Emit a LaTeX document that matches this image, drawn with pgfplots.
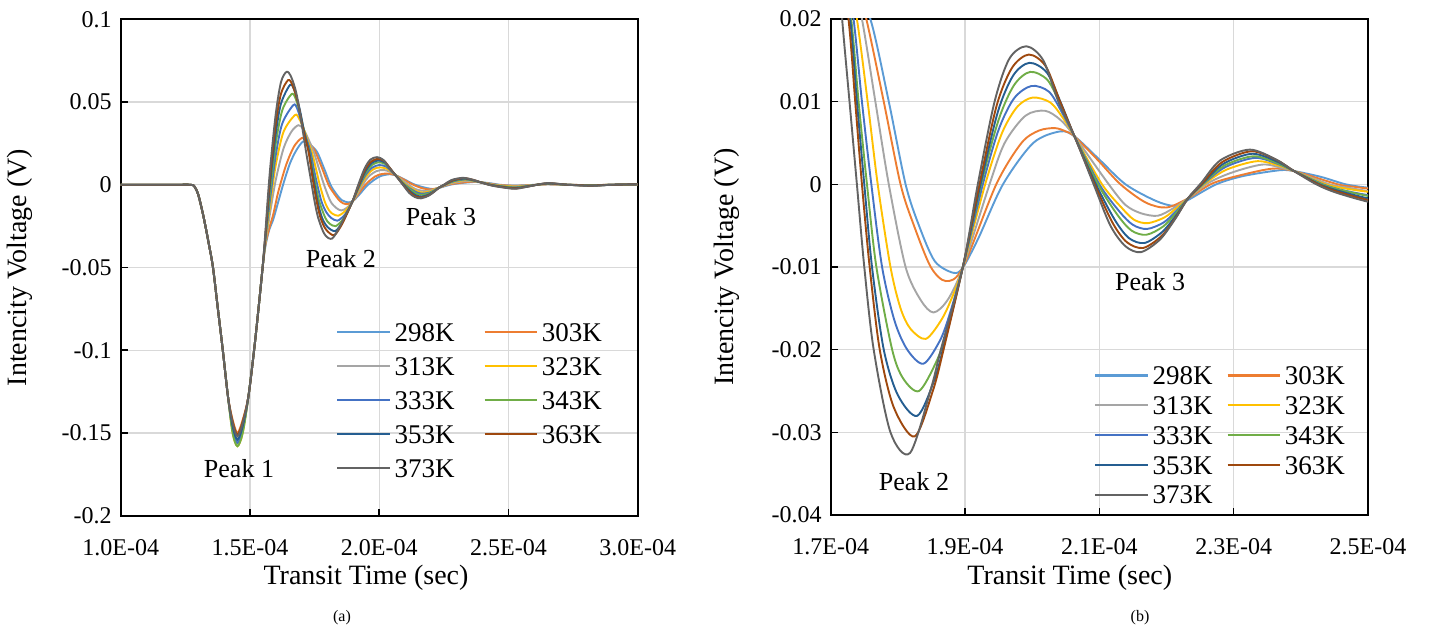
\documentclass[border=0pt]{standalone}
\usepackage{fontspec}
\setmainfont{Liberation Serif}
\usepackage{pgfplots}
\usepackage{pgfplotstable}
\pgfplotsset{compat=1.18}

% transit time in units of 1E-04 s, voltage in V
\pgfplotstableread{
t v
1.00 0
1.20 0
1.27 0
1.285 -0.001
1.30 -0.006
1.32 -0.019
1.34 -0.035
1.357 -0.050
1.376 -0.075
1.395 -0.100
1.415 -0.128
1.433 -0.148
1.4515 -0.156
1.472 -0.148
1.494 -0.128
1.516 -0.100
1.533 -0.075
1.549 -0.050
1.560 -0.037
1.575 -0.027
1.590 -0.021
1.610 -0.010
1.630 0.001
1.655 0.013
1.680 0.021
1.706 0.0262
1.730 0.0245
1.759 0.020
1.7865 0.010
1.8115 0.000
1.8315 -0.005
1.855 -0.0093
1.8825 -0.0107
1.8965 -0.0101
1.920 -0.0065
1.9565 0.000
2.0015 0.005
2.0415 0.0064
2.063 0.0058
2.100 0.003
2.139 0.000
2.184 -0.0020
2.212 -0.0026
2.232 -0.0019
2.274 0.000
2.314 0.0010
2.368 0.0017
2.390 0.0016
2.430 0.0009
2.467 0.000
2.500 -0.0004
2.530 -0.0005
2.580 -0.0002
2.650 0.0003
2.730 0.000
2.820 -0.0002
2.900 0.000
3.000 0.0002
}\dA

\pgfplotstableread{
t v
1.00 0
1.20 0
1.27 0
1.285 -0.001
1.30 -0.006
1.32 -0.019
1.34 -0.035
1.357 -0.050
1.376 -0.075
1.395 -0.100
1.415 -0.128
1.433 -0.142
1.4515 -0.150
1.472 -0.142
1.494 -0.128
1.516 -0.100
1.533 -0.075
1.549 -0.050
1.560 -0.036
1.575 -0.026
1.590 -0.018
1.610 -0.004
1.640 0.012
1.670 0.023
1.700 0.0282
1.720 0.027
1.740 0.023
1.753 0.020
1.779 0.010
1.804 0.000
1.824 -0.005
1.849 -0.010
1.8715 -0.0117
1.8965 -0.0101
1.9465 0.000
1.984 0.005
2.010 0.0065
2.034 0.0068
2.050 0.0064
2.063 0.0058
2.097 0.0030
2.1315 0.000
2.169 -0.0022
2.200 -0.0028
2.232 -0.0017
2.268 0.0001
2.310 0.0011
2.358 0.0019
2.390 0.0016
2.455 0.000
2.480 -0.0003
2.500 -0.0005
2.530 -0.0006
2.580 -0.0003
2.650 0.0003
2.730 0.000
2.820 -0.0002
2.900 0.000
3.000 0.0002
}\dB

\pgfplotstableread{
t v
1.00 0
1.20 0
1.27 0
1.285 -0.001
1.30 -0.006
1.32 -0.019
1.34 -0.035
1.357 -0.050
1.376 -0.075
1.395 -0.100
1.415 -0.128
1.433 -0.147
1.4515 -0.155
1.472 -0.147
1.494 -0.128
1.516 -0.100
1.533 -0.075
1.549 -0.050
1.560 -0.035
1.570 -0.025
1.580 -0.015
1.600 0.003
1.630 0.022
1.660 0.032
1.687 0.036
1.705 0.034
1.725 0.028
1.7465 0.020
1.7665 0.010
1.7865 0.000
1.8115 -0.010
1.834 -0.014
1.853 -0.0155
1.874 -0.0140
1.8965 -0.0101
1.9365 0.000
1.959 0.005
1.990 0.0083
2.019 0.0089
2.042 0.0078
2.063 0.0058
2.114 0.000
2.139 -0.0025
2.162 -0.0035
2.187 -0.0038
2.210 -0.0029
2.232 -0.0017
2.263 0.0002
2.300 0.0015
2.344 0.0024
2.375 0.0019
2.390 0.0016
2.443 0.000
2.470 -0.0004
2.500 -0.0008
2.530 -0.0009
2.580 -0.0004
2.650 0.0004
2.730 0.000
2.820 -0.0003
2.900 0.000
3.000 0.0002
}\dC

\pgfplotstableread{
t v
1.00 0
1.20 0
1.27 0
1.285 -0.001
1.30 -0.006
1.32 -0.019
1.34 -0.035
1.357 -0.050
1.376 -0.075
1.395 -0.100
1.415 -0.128
1.433 -0.150
1.4515 -0.158
1.472 -0.150
1.494 -0.128
1.516 -0.100
1.533 -0.075
1.549 -0.050
1.560 -0.034
1.570 -0.022
1.580 -0.010
1.600 0.012
1.630 0.032
1.674 0.0421
1.690 0.040
1.710 0.033
1.7225 0.027
1.739 0.020
1.755 0.010
1.770 0.000
1.789 -0.010
1.804 -0.015
1.819 -0.0175
1.8415 -0.0187
1.864 -0.0165
1.879 -0.014
1.8965 -0.0101
1.930 0.000
1.955 0.0062
1.978 0.0094
2.001 0.0105
2.027 0.0099
2.046 0.0080
2.063 0.0058
2.104 0.000
2.134 -0.0029
2.152 -0.0043
2.172 -0.0047
2.197 -0.0040
2.216 -0.0028
2.232 -0.0017
2.259 0.0002
2.290 0.0018
2.335 0.0028
2.370 0.0022
2.390 0.0016
2.437 0.000
2.466 -0.0005
2.500 -0.0009
2.530 -0.0011
2.580 -0.0005
2.650 0.0005
2.730 0.000
2.820 -0.0003
2.900 0.000
3.000 0.0002
}\dD

\pgfplotstableread{
t v
1.00 0
1.20 0
1.27 0
1.285 -0.001
1.30 -0.006
1.32 -0.019
1.34 -0.035
1.357 -0.050
1.376 -0.075
1.395 -0.100
1.415 -0.128
1.433 -0.148
1.4515 -0.156
1.472 -0.148
1.494 -0.128
1.516 -0.100
1.533 -0.075
1.549 -0.050
1.560 -0.033
1.570 -0.019
1.580 -0.006
1.600 0.018
1.625 0.037
1.668 0.0482
1.683 0.046
1.701 0.037
1.718 0.028
1.734 0.020
1.7465 0.010
1.7605 0.000
1.7765 -0.010
1.795 -0.0165
1.814 -0.020
1.838 -0.0217
1.862 -0.019
1.876 -0.016
1.8965 -0.0101
1.9265 0.000
1.950 0.0066
1.973 0.0104
1.999 0.0119
2.025 0.0112
2.045 0.0086
2.063 0.0058
2.100 0.000
2.130 -0.0033
2.150 -0.0049
2.171 -0.0054
2.196 -0.0046
2.216 -0.0031
2.232 -0.0017
2.257 0.0002
2.288 0.0021
2.332 0.0032
2.368 0.0024
2.390 0.0016
2.433 0.000
2.462 -0.0007
2.500 -0.0013
2.530 -0.0015
2.580 -0.0006
2.650 0.0006
2.730 0.000
2.820 -0.0004
2.900 0.000
3.000 0.0003
}\dE

\pgfplotstableread{
t v
1.00 0
1.20 0
1.27 0
1.285 -0.001
1.30 -0.006
1.32 -0.019
1.34 -0.035
1.357 -0.050
1.376 -0.075
1.395 -0.100
1.415 -0.128
1.433 -0.150
1.4515 -0.158
1.472 -0.150
1.494 -0.128
1.516 -0.100
1.533 -0.075
1.549 -0.050
1.560 -0.032
1.570 -0.016
1.580 -0.001
1.600 0.025
1.625 0.045
1.661 0.0548
1.677 0.052
1.696 0.042
1.714 0.029
1.7305 0.020
1.7415 0.010
1.754 0.000
1.768 -0.010
1.7915 -0.020
1.808 -0.0235
1.8315 -0.025
1.857 -0.0215
1.872 -0.018
1.8965 -0.0101
1.924 0.000
1.950 0.0078
1.973 0.0120
1.997 0.0136
2.023 0.0126
2.044 0.0093
2.063 0.0058
2.098 0.000
2.127 -0.0037
2.148 -0.0056
2.170 -0.0061
2.195 -0.0051
2.215 -0.0034
2.232 -0.0017
2.256 0.0002
2.287 0.0023
2.330 0.0034
2.367 0.0025
2.390 0.0016
2.431 0.000
2.460 -0.0007
2.500 -0.0014
2.530 -0.0017
2.580 -0.0007
2.650 0.0007
2.730 0.000
2.820 -0.0004
2.900 0.000
3.000 0.0003
}\dF

\pgfplotstableread{
t v
1.00 0
1.20 0
1.27 0
1.285 -0.001
1.30 -0.006
1.32 -0.019
1.34 -0.035
1.357 -0.050
1.376 -0.075
1.395 -0.100
1.415 -0.128
1.433 -0.146
1.4515 -0.154
1.472 -0.146
1.494 -0.128
1.516 -0.100
1.533 -0.075
1.549 -0.050
1.560 -0.031
1.570 -0.013
1.580 0.004
1.600 0.031
1.620 0.049
1.655 0.0603
1.672 0.057
1.692 0.046
1.711 0.031
1.729 0.020
1.739 0.010
1.750 0.000
1.7615 -0.010
1.779 -0.020
1.800 -0.0255
1.829 -0.028
1.855 -0.0235
1.870 -0.019
1.8965 -0.0101
1.923 0.000
1.949 0.0088
1.972 0.0132
1.996 0.0147
2.022 0.0135
2.043 0.0098
2.063 0.0058
2.095 0.000
2.123 -0.0043
2.144 -0.0065
2.167 -0.0071
2.193 -0.0058
2.214 -0.0038
2.232 -0.0017
2.255 0.0002
2.285 0.0025
2.328 0.0037
2.366 0.0027
2.390 0.0016
2.428 0.000
2.457 -0.0008
2.500 -0.0017
2.530 -0.0020
2.580 -0.0008
2.650 0.0008
2.730 0.000
2.820 -0.0005
2.900 0.000
3.000 0.0003
}\dG

\pgfplotstableread{
t v
1.00 0
1.20 0
1.27 0
1.285 -0.001
1.30 -0.006
1.32 -0.019
1.34 -0.035
1.357 -0.050
1.376 -0.075
1.395 -0.100
1.415 -0.128
1.433 -0.143
1.4515 -0.151
1.472 -0.143
1.494 -0.128
1.516 -0.100
1.533 -0.075
1.549 -0.050
1.560 -0.030
1.570 -0.010
1.580 0.008
1.600 0.037
1.620 0.055
1.648 0.0633
1.665 0.060
1.685 0.050
1.705 0.034
1.7265 0.020
1.7365 0.010
1.7465 0.000
1.758 -0.010
1.773 -0.020
1.794 -0.027
1.825 -0.0305
1.852 -0.025
1.868 -0.020
1.8965 -0.0101
1.9215 0.000
1.947 0.0095
1.970 0.0141
1.995 0.0157
2.020 0.0143
2.041 0.0101
2.063 0.0058
2.093 0.000
2.120 -0.0047
2.141 -0.0070
2.165 -0.0077
2.192 -0.0063
2.213 -0.0041
2.232 -0.0017
2.254 0.0002
2.283 0.0027
2.327 0.0040
2.365 0.0029
2.390 0.0016
2.426 0.000
2.455 -0.0009
2.500 -0.0019
2.530 -0.0022
2.580 -0.0009
2.650 0.0009
2.730 0.000
2.820 -0.0005
2.900 0.000
3.000 0.0003
}\dH

\pgfplotstableread{
t v
1.00 0
1.20 0
1.27 0
1.285 -0.001
1.30 -0.006
1.32 -0.019
1.34 -0.035
1.357 -0.050
1.376 -0.075
1.395 -0.100
1.415 -0.128
1.433 -0.144
1.4515 -0.152
1.472 -0.144
1.494 -0.128
1.516 -0.100
1.533 -0.075
1.549 -0.050
1.560 -0.028
1.570 -0.006
1.580 0.013
1.600 0.043
1.620 0.062
1.642 0.0683
1.660 0.065
1.680 0.055
1.700 0.037
1.717 0.020
1.728 0.010
1.739 0.000
1.750 -0.010
1.764 -0.020
1.789 -0.030
1.818 -0.0325
1.849 -0.0248
1.864 -0.020
1.8965 -0.0101
1.919 0.000
1.944 0.010
1.966 0.0152
1.9915 0.0167
2.0165 0.015
2.039 0.010
2.063 0.0058
2.0915 0.000
2.1165 -0.005
2.139 -0.0075
2.162 -0.0082
2.190 -0.0067
2.212 -0.0043
2.232 -0.0017
2.252 0.0002
2.280 0.0029
2.324 0.0042
2.363 0.003
2.390 0.0016
2.423 0.000
2.4525 -0.001
2.500 -0.0021
2.530 -0.0024
2.580 -0.001
2.650 0.001
2.730 0.000
2.820 -0.0006
2.900 0.000
3.000 0.0003
}\dI

\definecolor{c298}{HTML}{5B9BD5}
\definecolor{c303}{HTML}{ED7D31}
\definecolor{c313}{HTML}{A5A5A5}
\definecolor{c323}{HTML}{FFC000}
\definecolor{c333}{HTML}{4472C4}
\definecolor{c343}{HTML}{70AD47}
\definecolor{c353}{HTML}{255E91}
\definecolor{c363}{HTML}{9E480E}
\definecolor{c373}{HTML}{636363}

\pgfplotsset{
  panel/.style={
    scale only axis,
    scaled ticks=false,
    axis line style={black, line width=1.1pt},
    grid=major, major grid style={draw=black!15, line width=0.6pt},
    tick align=inside, major tick length=3.5pt,
    every tick/.style={black, line width=0.8pt},
    xtick pos=left, ytick pos=left,
    tick label style={font=\fontsize{12}{14}\selectfont},
    xticklabel style={anchor=center, yshift=-16pt},
    yticklabel style={xshift=-1pt},
    label style={font=\fontsize{14}{16}\selectfont},
    xlabel={Transit Time (sec)},
    ylabel={Intencity Voltage (V)},
    legend columns=2,
    legend cell align=left,
    legend image code/.code={%
      \draw[##1, line width=1.1pt] plot coordinates {(0pt,0pt) (26pt,0pt)};},
  },
  crv/.style={line width=0.95pt, smooth},
}

\newcommand{\allseries}{%
  \addplot[crv, c298] table[x=t, y=v] {\dA}; \addlegendentry{298K}
  \addplot[crv, c303] table[x=t, y=v] {\dB}; \addlegendentry{303K}
  \addplot[crv, c313] table[x=t, y=v] {\dC}; \addlegendentry{313K}
  \addplot[crv, c323] table[x=t, y=v] {\dD}; \addlegendentry{323K}
  \addplot[crv, c333] table[x=t, y=v] {\dE}; \addlegendentry{333K}
  \addplot[crv, c343] table[x=t, y=v] {\dF}; \addlegendentry{343K}
  \addplot[crv, c353] table[x=t, y=v] {\dG}; \addlegendentry{353K}
  \addplot[crv, c363] table[x=t, y=v] {\dH}; \addlegendentry{363K}
  \addplot[crv, c373] table[x=t, y=v] {\dI}; \addlegendentry{373K}
}

\begin{document}
\begin{tikzpicture}
\path (0,0) rectangle (714.5pt,-316.5pt);

\begin{axis}[panel,
  at={(60.35pt,-257.85pt)}, anchor=south west,
  width=258.5pt, height=248.2pt,
  xmin=1, xmax=3, ymin=-0.2, ymax=0.1,
  xtick={1,1.5,2,2.5,3},
  xticklabels={1.0E-04,1.5E-04,2.0E-04,2.5E-04,3.0E-04},
  ytick={-0.2,-0.15,-0.1,-0.05,0,0.05,0.1},
  yticklabels={-0.2,-0.15,-0.1,-0.05,0,0.05,0.1},
  xlabel style={at={(axis description cs:0.4745,-0.1255)}, anchor=center},
  ylabel style={at={(axis description cs:-0.195,0.5)}, anchor=center},
  legend style={at={(rel axis cs:0.4164,0.3934)}, anchor=north west,
    draw=none, fill=none, inner sep=0pt,
    font=\fontsize{13.5}{15}\selectfont,
    nodes={inner sep=1pt, text height=9.3pt, text depth=0pt},
    row sep=5.7pt,
    /tikz/every odd column/.append style={column sep=1pt},
    /tikz/every even column/.append style={column sep=13.5pt}},
]
\allseries
\node[font=\fontsize{13}{15}\selectfont] at (axis cs:1.4576,-0.1716) {Peak 1};
\node[font=\fontsize{13}{15}\selectfont] at (axis cs:1.852,-0.0449) {Peak 2};
\node[font=\fontsize{13}{15}\selectfont] at (axis cs:2.239,-0.0195) {Peak 3};
\end{axis}

\begin{axis}[panel,
  at={(415.35pt,-257.5pt)}, anchor=south west,
  width=268.65pt, height=248pt,
  xmin=1.7, xmax=2.5, ymin=-0.04, ymax=0.02,
  xtick={1.7,1.9,2.1,2.3,2.5},
  xticklabels={1.7E-04,1.9E-04,2.1E-04,2.3E-04,2.5E-04},
  ytick={-0.04,-0.03,-0.02,-0.01,0,0.01,0.02},
  yticklabels={-0.04,-0.03,-0.02,-0.01,0,0.01,0.02},
  xlabel style={at={(axis description cs:0.445,-0.127)}, anchor=center},
  ylabel style={at={(axis description cs:-0.193,0.5)}, anchor=center},
  legend style={at={(rel axis cs:0.490,0.305)}, anchor=north west,
    draw=none, fill=none, inner sep=0pt,
    font=\fontsize{13.5}{15}\selectfont,
    nodes={inner sep=1pt, text height=9.3pt, text depth=0pt},
    row sep=3.6pt,
    /tikz/every odd column/.append style={column sep=1pt},
    /tikz/every even column/.append style={column sep=6pt}},
]
\allseries
\node[font=\fontsize{13}{15}\selectfont] at (axis cs:1.824,-0.0359) {Peak 2};
\node[font=\fontsize{13}{15}\selectfont] at (axis cs:2.1755,-0.0118) {Peak 3};
\end{axis}

\node[font=\fontsize{8}{10}\selectfont] at (171pt,-309pt) {(a)};
\node[font=\fontsize{8}{10}\selectfont] at (570pt,-309pt) {(b)};
\end{tikzpicture}
\end{document}
